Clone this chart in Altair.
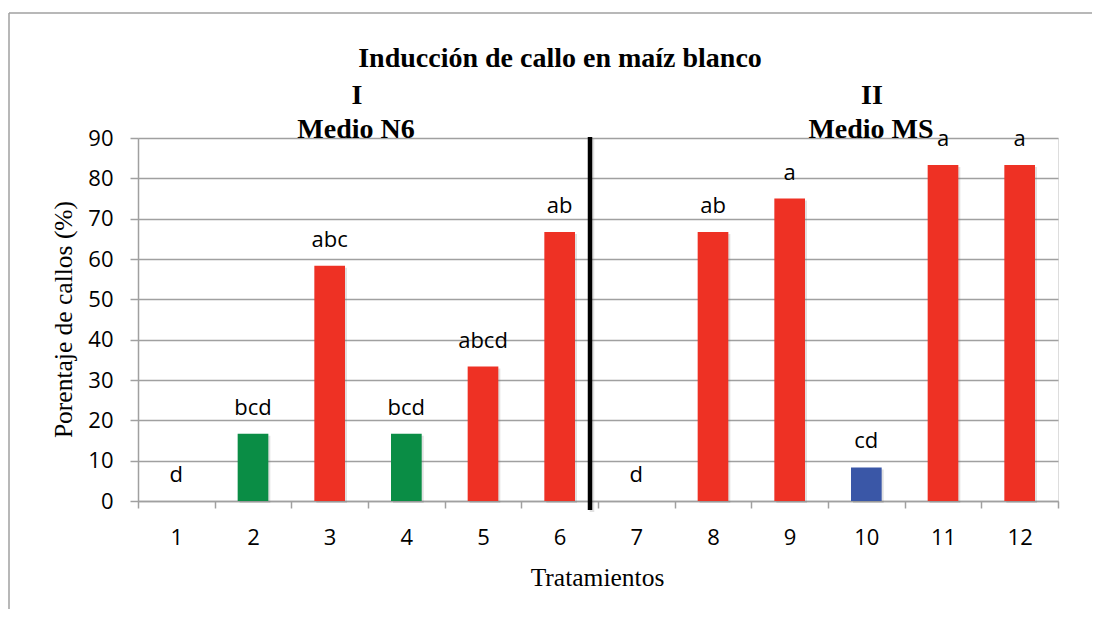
import altair as alt
import pandas as pd

tratamientos = ["1", "2", "3", "4", "5", "6", "7", "8", "9", "10", "11", "12"]
porcentajes = [0, 16.67, 58.33, 16.67, 33.33, 66.67, 0, 66.67, 75.0, 8.33, 83.33, 83.33]
letras = ["d", "bcd", "abc", "bcd", "abcd", "ab", "d", "ab", "a", "cd", "a", "a"]
colores = ["#EE3124", "#0A8D45", "#EE3124", "#0A8D45", "#EE3124", "#EE3124",
           "#EE3124", "#EE3124", "#EE3124", "#3A57A7", "#EE3124", "#EE3124"]

df = pd.DataFrame({"t": tratamientos, "p": porcentajes, "l": letras, "c": colores})

W, H = 920, 363
SANS = "Open Sans"
SERIF = "Liberation Serif"
GRAY = "#A0A0A0"

x = alt.X("t:N", sort=tratamientos,
          scale=alt.Scale(paddingInner=0, paddingOuter=0),
          axis=alt.Axis(title="Tratamientos", labelAngle=0, labelFont=SANS, labelFontSize=22,
                        labelColor="black", labelBaseline="alphabetic", labelPadding=36,
                        tickBand="extent", tickSize=7, tickColor=GRAY, tickWidth=1.5,
                        domainColor=GRAY, domainWidth=1.5, grid=False,
                        titleFont=SERIF, titleFontSize=25.5, titleFontWeight="normal",
                        titleColor="black", titleX=459, titleY=84,
                        titleBaseline="alphabetic", titleAlign="center"))
y = alt.Y("p:Q", scale=alt.Scale(domain=[0, 90], nice=False),
          axis=alt.Axis(title="Porentaje de callos (%)", values=list(range(0, 91, 10)),
                        labelFont=SANS, labelFontSize=22, labelColor="black", labelPadding=17,
                        tickSize=8, tickColor=GRAY, tickWidth=1.5,
                        domainColor=GRAY, domainWidth=1.5,
                        grid=True, gridColor=GRAY, gridWidth=1.5,
                        titleFont=SERIF, titleFontSize=25.5, titleFontWeight="normal",
                        titleColor="black", titleAngle=-90, titleX=-67, titleY=181,
                        titleBaseline="alphabetic", titleAlign="center"))

base = alt.Chart(df)

shadow = base.mark_bar(width=alt.RelativeBandSize(0.4), color="#777777", opacity=0.22,
                       xOffset=2, yOffset=2).encode(x=x, y=y)

bars = base.mark_bar(width=alt.RelativeBandSize(0.4)).encode(
    x=x, y=y, color=alt.Color("c:N", scale=None))

labels = base.mark_text(font=SANS, fontSize=22, color="black", dy=-19,
                        baseline="alphabetic").encode(x=x, y=y, text="l:N")

divider_shadow = alt.Chart(pd.DataFrame({"d": [0]})).mark_rule(
    color="#777777", strokeWidth=4.5, opacity=0.22).encode(
    x=alt.value(454), y=alt.value(1), y2=alt.value(374))
divider = alt.Chart(pd.DataFrame({"d": [0]})).mark_rule(color="black", strokeWidth=4.5).encode(
    x=alt.value(452), y=alt.value(-1), y2=alt.value(372))

txt = pd.DataFrame({
    "s": ["Inducción de callo en maíz blanco", "I", "Medio N6", "II", "Medio MS"],
    "px": [422, 219, 218, 734, 733],
    "py": [-71, -34, 0, -34, 0],
})
heads = alt.Chart(txt).mark_text(font=SERIF, fontSize=28, fontWeight="bold", color="black",
                                 baseline="alphabetic", align="center").encode(
    x=alt.X("px:Q", scale=None), y=alt.Y("py:Q", scale=None), text="s:N")

frame_top = alt.Chart(pd.DataFrame({"d": [0]})).mark_rule(color=GRAY, strokeWidth=1.5).encode(
    x=alt.value(-129), x2=alt.value(960), y=alt.value(-125))
frame_left = alt.Chart(pd.DataFrame({"d": [0]})).mark_rule(color=GRAY, strokeWidth=1.5).encode(
    x=alt.value(-129), y=alt.value(-125), y2=alt.value(520))

chart = alt.layer(frame_top, frame_left, shadow, bars, labels, divider_shadow, divider,
                  heads).properties(
    width=W, height=H,
    autosize=alt.AutoSizeParams(type="none"),
    padding={"left": 130, "top": 130, "right": 34, "bottom": 108},
).configure_view(stroke=None).configure(background="white")

chart.save("out.html", embed_options={"renderer": "svg", "actions": False})
